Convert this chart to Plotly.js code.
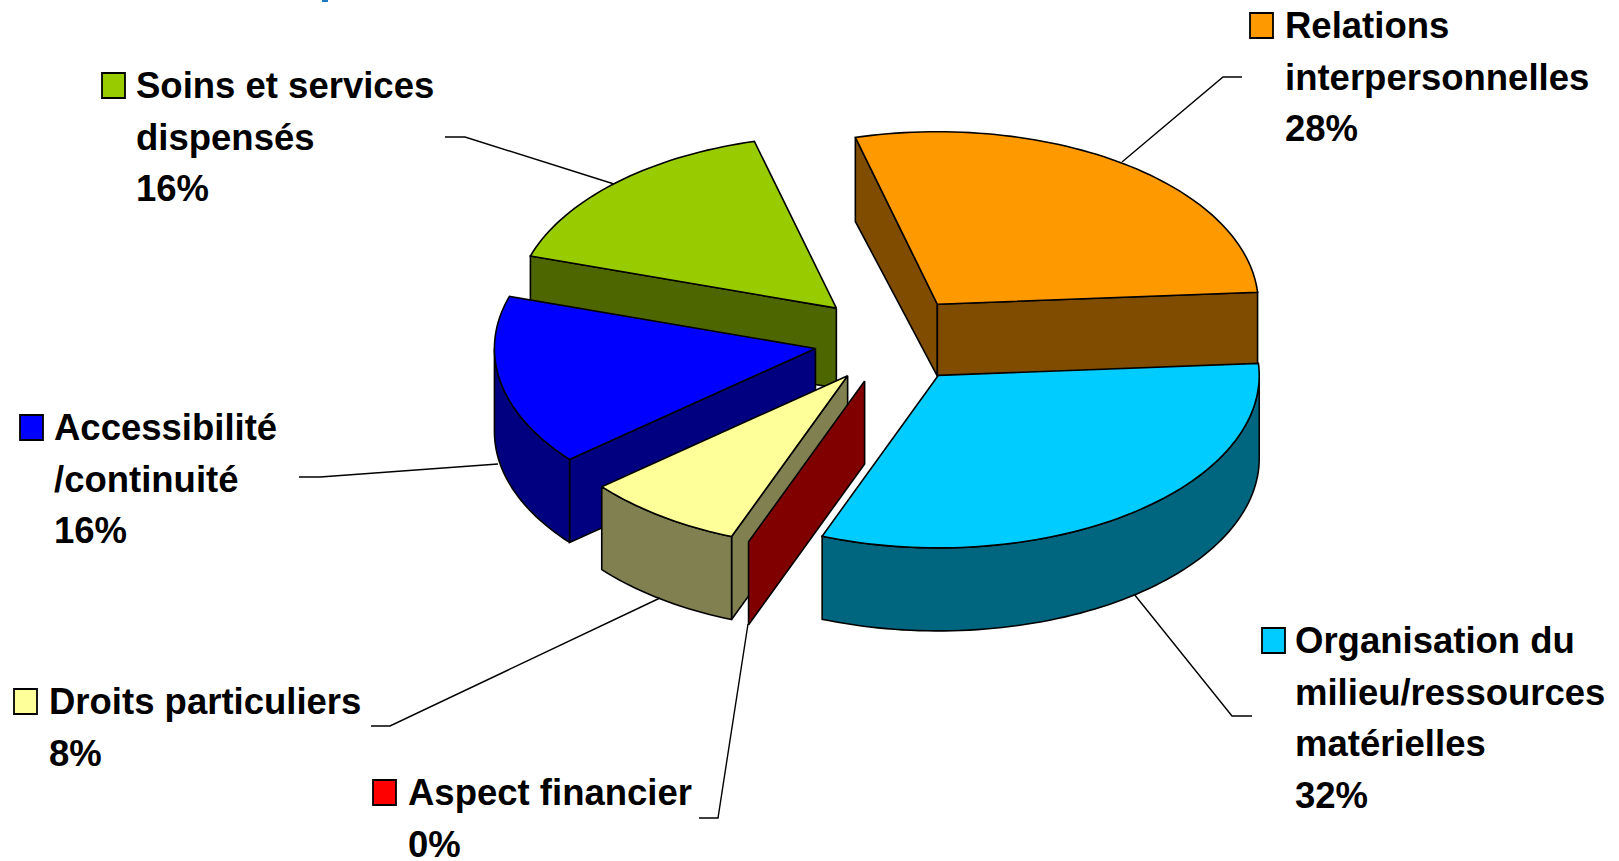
<!DOCTYPE html>
<html>
<head>
<meta charset="utf-8">
<script src="https://cdn.plot.ly/plotly-3.0.1.min.js"></script>
<style>html,body{margin:0;padding:0;background:#fff;overflow:hidden}#chart{width:1619px;height:861px}</style>
</head>
<body>
<div id="chart"></div>
<script>
// Data
const categories = ["Relations interpersonnelles","Organisation du milieu/ressources matérielles","Aspect financier","Droits particuliers","Accessibilité /continuité","Soins et services dispensés"];
const shares = [28, 32, 0, 8, 16, 16];
const labelLines = [
  ["Relations","interpersonnelles","28%"],
  ["Organisation du","milieu/ressources","matérielles","32%"],
  ["Aspect financier","0%"],
  ["Droits particuliers","8%"],
  ["Accessibilité","/continuité","16%"],
  ["Soins et services","dispensés","16%"]
];

// Styles
const topColors  = ["#FF9900","#00CCFF","#FF0000","#FFFF99","#0000FF","#99CC00"];
const wallColors = ["#804D00","#006680","#800000","#808050","#000080","#4D6600"];

// Projection of the pie (page pixels)
const CX = 892.5, CY = 340, RX = 321, RY = 172.5, EXPLODE_X = 0.24, EXPLODE_Y = 0.255, START_DEG = -14.8;
const depthOf = [72, 83, 83, 83, 83, 80];
const outerStartDepth = [84, 83, 83, 83, 83, 80];
const nudgeX = [0, 0, 0, 0, -1.5, -3];
const paintOrder = [5, 0, 4, 3, 2, 1];

// Label placement (page pixels): text x, first baseline, swatch x, leader path
const FS = 36.5, PITCH = 51.7;
const place = [
  {x:1284.5, y:38,  sx:1250, leader:[[1242,77],[1223,77],[1122,162]]},
  {x:1295,   y:653, sx:1262, leader:[[1252,716],[1232,716],[1134,594]]},
  {x:407.5,  y:805, sx:373,  leader:[[699,818],[718,818],[748,624]]},
  {x:48.5,   y:714, sx:14,   leader:[[371,726],[390,726],[660,598]]},
  {x:54,     y:440, sx:20,   leader:[[299,477],[320,477],[498,464]]},
  {x:135.5,  y:98,  sx:102,  leader:[[445,137],[465,137],[614,184]]}
];

const rad = d => d * Math.PI / 180;
function pt(deg, ax, ay, r, dz) {
  return [ax + r * RX * Math.sin(rad(deg)), ay - r * RY * Math.cos(rad(deg)) + dz];
}
function arc(a0, a1, ax, ay, dz) {
  const out = [], n = Math.max(1, Math.ceil(Math.abs(a1 - a0) / 1.5));
  for (let i = 0; i <= n; i++) out.push(pt(a0 + (a1 - a0) * i / n, ax, ay, 1, dz));
  return out;
}
function poly(points, fill) {
  return {
    type: "scatter", mode: "lines", hoverinfo: "skip", showlegend: false,
    x: points.map(p => p[0]), y: points.map(p => p[1]),
    fill: "toself", fillcolor: fill,
    line: {color: "#000", width: 1.6, simplify: false}
  };
}

const total = shares.reduce((a, b) => a + b, 0);
let running = START_DEG;
const geo = shares.map((v, i) => {
  const a0 = running, a1 = running + v / total * 360;
  running = a1;
  const mid = (a0 + a1) / 2;
  return {a0, a1, ax: CX + nudgeX[i] + EXPLODE_X * RX * Math.sin(rad(mid)), ay: CY - EXPLODE_Y * RY * Math.cos(rad(mid))};
});

const traces = [];
paintOrder.forEach(i => {
  const {a0, a1, ax, ay} = geo[i], d = depthOf[i];
  const wall = wallColors[i];
  const faceVisible = phi => Math.cos(rad(phi)) < 0;
  // radial cut faces
  [[a0, a0 - 90, outerStartDepth[i]], [a1, a1 + 90, d]].forEach(([a, phi, od]) => {
    if (faceVisible(phi)) {
      const e = pt(a, ax, ay, 1, 0);
      traces.push(poly([[ax, ay], e, [e[0], e[1] + od], [ax, ay + d], [ax, ay]], wall));
    }
  });
  // outer rim: only the front half (angles 90..270 modulo 360) faces the viewer
  for (const k of [0, 360, -360]) {
    const lo = Math.max(a0, 90 + k), hi = Math.min(a1, 270 + k);
    if (hi > lo) {
      const rim = arc(lo, hi, ax, ay, 0).concat(arc(hi, lo, ax, ay, d));
      rim.push(rim[0]);
      traces.push(poly(rim, wall));
    }
  }
  // top face
  if (a1 > a0) {
    const top = [[ax, ay]].concat(arc(a0, a1, ax, ay, 0));
    top.push([ax, ay]);
    traces.push(poly(top, topColors[i]));
  }
});

const annotations = [], shapes = [];
labelLines.forEach((lines, i) => {
  const p = place[i];
  lines.forEach((t, j) => annotations.push({
    xref: "x", yref: "y", x: p.x, y: p.y + j * PITCH - 0.30 * FS - 1.5,
    text: t, showarrow: false, xanchor: "left", yanchor: "middle",
    borderpad: 0, borderwidth: 0,
    font: {family: "Liberation Sans, Arial, sans-serif", size: FS, color: "#000", weight: 700}
  }));
  shapes.push({type: "rect", xref: "x", yref: "y", x0: p.sx, x1: p.sx + 23, y0: p.y - 25, y1: p.y,
    fillcolor: topColors[i], line: {color: "#000", width: 1.8}});
  const path = p.leader.map((q, k) => (k ? "L" : "M") + q[0] + "," + q[1]).join(" ");
  shapes.push({type: "path", xref: "x", yref: "y", path, line: {color: "#000", width: 1.4}});
});
// clipped remnant of a blue slide heading at the very top edge
shapes.push({type: "rect", xref: "x", yref: "y", x0: 322, x1: 328, y0: 0, y1: 2, fillcolor: "#1F78C0", line: {width: 0}});

const hidden = {visible: false, fixedrange: true, showgrid: false, zeroline: false};
Plotly.newPlot("chart", traces, {
  width: 1619, height: 861,
  margin: {l: 0, r: 0, t: 0, b: 0},
  paper_bgcolor: "#fff", plot_bgcolor: "#fff",
  showlegend: false,
  xaxis: Object.assign({range: [0, 1619]}, hidden),
  yaxis: Object.assign({range: [861, 0]}, hidden),
  annotations, shapes
}, {displayModeBar: false, staticPlot: true});
</script>
</body>
</html>
